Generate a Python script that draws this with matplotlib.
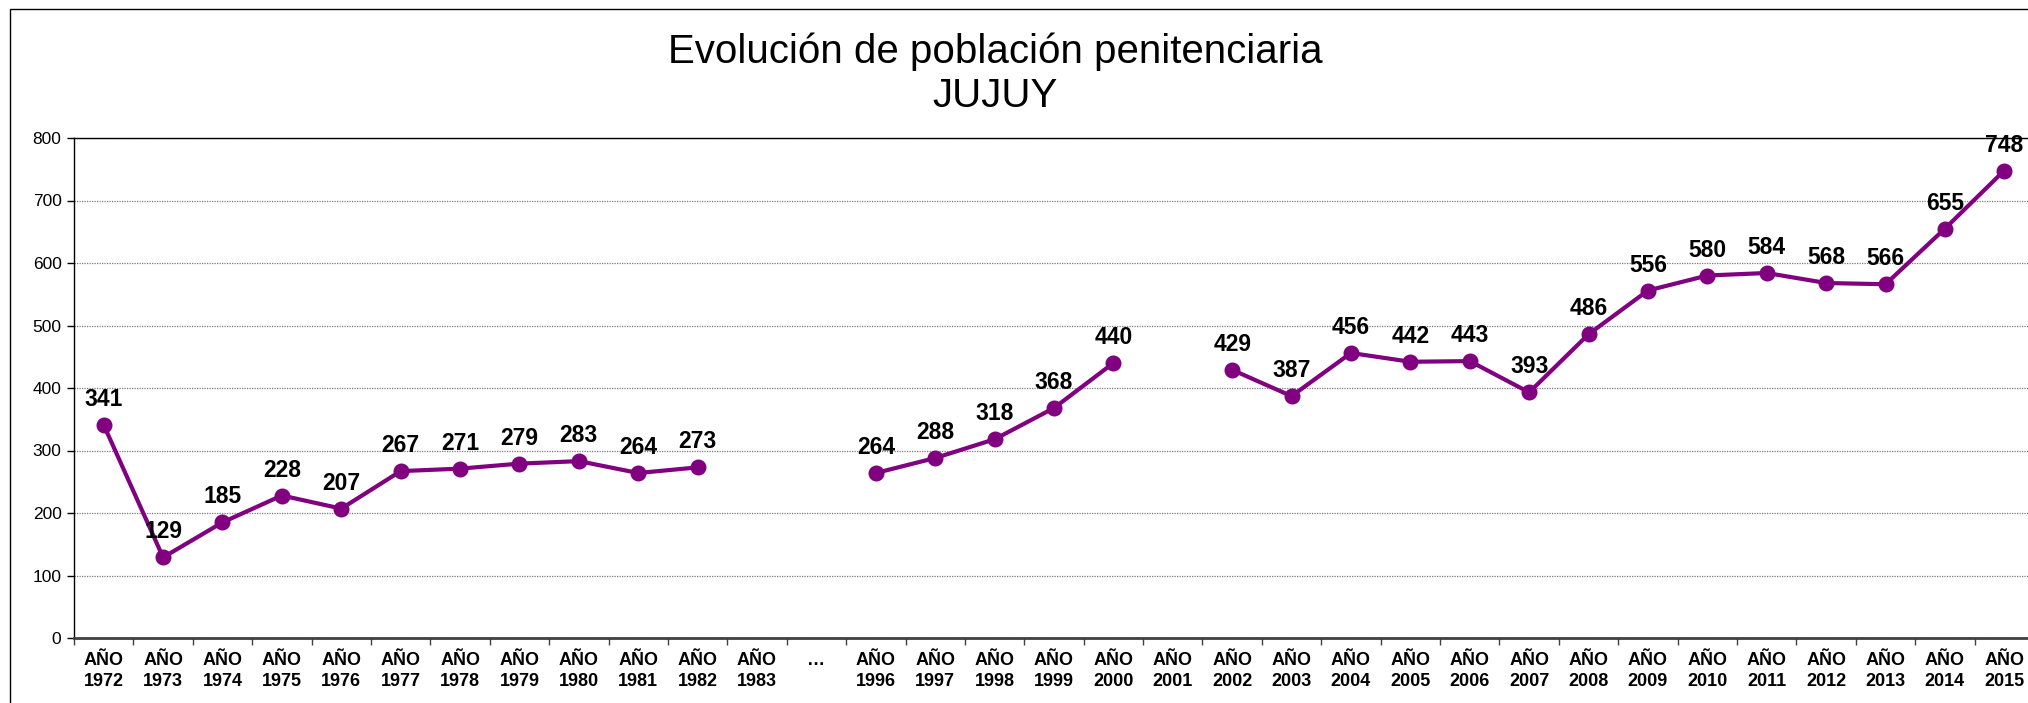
import matplotlib
matplotlib.use("Agg")
import matplotlib.pyplot as plt
from matplotlib import font_manager
import numpy as np

categories = ["AÑO\n1972", "AÑO\n1973", "AÑO\n1974", "AÑO\n1975", "AÑO\n1976",
              "AÑO\n1977", "AÑO\n1978", "AÑO\n1979", "AÑO\n1980", "AÑO\n1981",
              "AÑO\n1982", "AÑO\n1983", "…", "AÑO\n1996", "AÑO\n1997",
              "AÑO\n1998", "AÑO\n1999", "AÑO\n2000", "AÑO\n2001", "AÑO\n2002",
              "AÑO\n2003", "AÑO\n2004", "AÑO\n2005", "AÑO\n2006", "AÑO\n2007",
              "AÑO\n2008", "AÑO\n2009", "AÑO\n2010", "AÑO\n2011", "AÑO\n2012",
              "AÑO\n2013", "AÑO\n2014", "AÑO\n2015"]
values = [341, 129, 185, 228, 207, 267, 271, 279, 283, 264, 273, None, None,
          264, 288, 318, 368, 440, None, 429, 387, 456, 442, 443, 393, 486,
          556, 580, 584, 568, 566, 655, 748]
yticks = [0, 100, 200, 300, 400, 500, 600, 700, 800]
title = "Evolución de población penitenciaria\nJUJUY"

avail = {f.name for f in font_manager.fontManager.ttflist}
narrow = "Liberation Sans Narrow" if "Liberation Sans Narrow" in avail else "Liberation Sans"
plt.rcParams['font.family'] = [narrow, 'DejaVu Sans']

W, H = 2028, 703
fig = plt.figure(figsize=(W / 100, H / 100), dpi=100)

# outer frame
fig.add_artist(plt.Rectangle((10 / W, -0.1), 1.2, (H - 9) / H + 0.1, transform=fig.transFigure,
                             fill=False, edgecolor='black', linewidth=1.0))

left, right, top, bottom = 74, 2034, 138, 638
ax = fig.add_axes([left / W, (H - bottom) / H, (right - left) / W, (bottom - top) / H])

x = np.arange(len(categories))
y = np.array([np.nan if v is None else v for v in values], dtype=float)
ax.plot(x, y, color='#800080', linewidth=3.0, marker='o', markersize=10.5,
        markerfacecolor='#800080', markeredgecolor='#800080', zorder=3)

for xi, v in zip(x, values):
    if v is None:
        continue
    ax.annotate(str(v), (xi, v), xytext=(0, 10), textcoords='offset points',
                ha='center', va='bottom', fontsize=16.5, fontweight='bold',
                family=['Liberation Sans', 'DejaVu Sans'], color='black', zorder=4)

ax.set_xlim(-0.5, len(categories) - 0.5)
ax.set_ylim(0, 800)
ax.set_yticks(yticks)
ax.set_yticklabels([str(t) for t in yticks], fontsize=12.5,
                   family=['Liberation Sans', 'DejaVu Sans'])
ax.yaxis.grid(True, color='#7a7a7a', linestyle=(0, (1, 1)), linewidth=0.9)
ax.set_axisbelow(True)

ax.set_xticks(x)
ax.set_xticklabels(categories, fontsize=13, fontweight='bold', linespacing=1.3)
ax.tick_params(axis='x', which='major', length=0, pad=10)
ax.set_xticks(np.arange(-0.5, len(categories) + 0.5, 1), minor=True)
ax.tick_params(axis='x', which='minor', length=5, width=1, color='#404040', direction='out')
ax.tick_params(axis='y', length=5, width=1, color='black', direction='out', pad=4)

ax.spines['right'].set_visible(False)
ax.spines['top'].set_color('black')
ax.spines['top'].set_linewidth(1.0)
ax.spines['left'].set_color('black')
ax.spines['left'].set_linewidth(1.0)
ax.spines['bottom'].set_color('#404040')
ax.spines['bottom'].set_linewidth(2.0)

fig.text(995 / W, 1 - 74 / H, title, ha='center', va='center', fontsize=29,
         linespacing=1.2, color='black')

fig.savefig("out.png", dpi=100, facecolor='white')
